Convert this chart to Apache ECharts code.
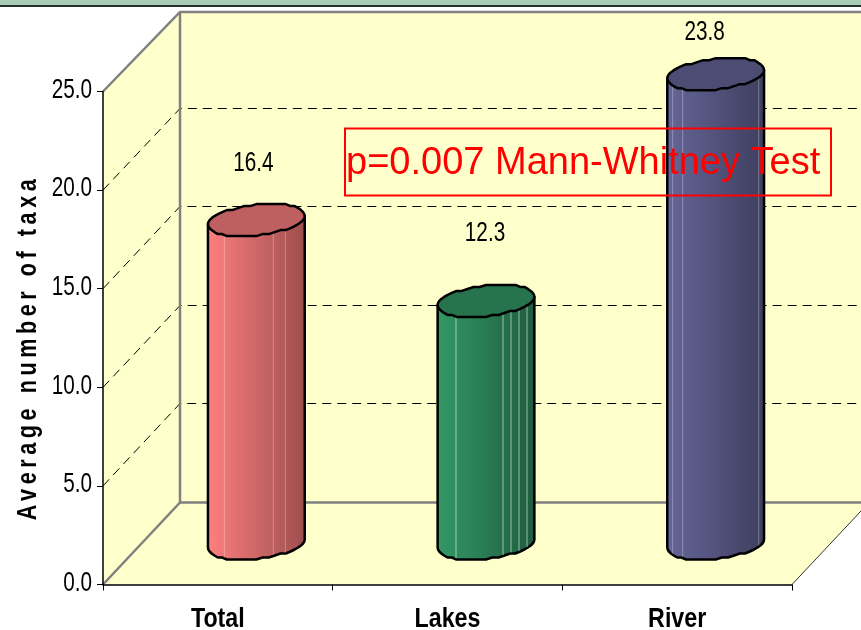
<!DOCTYPE html>
<html>
<head>
<meta charset="utf-8">
<style>html,body{margin:0;padding:0;background:#fff}#chart{width:861px;height:630px}</style>
<script src="https://cdn.jsdelivr.net/npm/echarts@6/dist/echarts.min.js"></script>
</head>
<body>
<div id="chart"></div>
<script>
// Average taxa per habitat group
const categories = ['Total', 'Lakes', 'River'];
const values = [16.4, 12.3, 23.8];
const valueLabels = ['16.4', '12.3', '23.8'];
const valueTicks = [0, 5, 10, 15, 20, 25];
const valueTickLabels = ['0.0', '5.0', '10.0', '15.0', '20.0', '25.0'];

// Shading per cylinder: lit side, shaded side, top cap
const litColors = ['#ff8080', '#339966', '#666699'];
const darkColors = ['#9c4e4e', '#1f5c3e', '#3e3e5e'];
const capColors = ['#bf6060', '#26734d', '#4d4d73'];

// Facet seams (x offset from the cylinder axis) and value label nudges
const seams = [[-32, 17, 29], [-30, 17, 25, 33, 41], [-43, -33, 43]];
const seamAlpha = [0.3, 0.55, 0.3];
const labelNudge = [[-3, -57], [-1, -68], [-11, -42]];

// Pseudo-3D box: full depth vector of the floor and the cylinder footprint
const DEPTH = [77, -82];
const RX = 46, SKEW_X = 15, SKEW_Y = 16, RING_POINTS = 48, STEP_Y = 2;
const LINE_GRAY = '#808080';
const FONT = '"Liberation Sans", Arial, sans-serif';
const NARROW = 0.74;

function wallItem(params, api) {
  const r = params.coordSys;
  const left = r.x, right = r.x + r.width, top = r.y, bottom = r.y + r.height;
  const dx = DEPTH[0], dy = DEPTH[1];
  const backTop = top - 79.5;
  const children = [];
  const fill = { fill: '#ffffcc', stroke: null };
  // back wall, side wall, floor
  children.push({ type: 'polygon', shape: { points: [[left + dx, backTop], [right + dx, backTop], [right + dx, bottom + dy], [left + dx, bottom + dy]] }, style: fill });
  children.push({ type: 'polygon', shape: { points: [[left, top], [left + dx, backTop], [left + dx, bottom + dy], [left, bottom]] }, style: fill });
  children.push({ type: 'polygon', shape: { points: [[left, bottom], [left + dx, bottom + dy], [right + dx, bottom + dy], [right, bottom]] }, style: fill });
  // dashed gridlines running along the side wall and the back wall
  valueTicks.slice(1, -1).forEach(function (v) {
    const y = api.coord([0, v])[1];
    const backY = Math.floor(y + dy) + 0.5;
    children.push({ type: 'polyline', shape: { points: [[left, y], [left + dx, backY], [right + dx, backY]] },
      style: { fill: null, stroke: '#000', lineWidth: 1, lineDash: [9, 6] } });
  });
  // wall edges
  const edge = { fill: null, stroke: LINE_GRAY, lineWidth: 2.5 };
  children.push({ type: 'polyline', shape: { points: [[left, top], [left + dx, backTop], [right + dx, backTop]] }, style: edge });
  children.push({ type: 'polyline', shape: { points: [[left + dx, backTop], [left + dx, bottom + dy], [right + dx, bottom + dy]] }, style: edge });
  children.push({ type: 'line', shape: { x1: left, y1: bottom, x2: left + dx, y2: bottom + dy }, style: edge });
  children.push({ type: 'line', shape: { x1: right, y1: bottom, x2: right + dx, y2: bottom + dy }, style: { stroke: '#333', lineWidth: 1 } });
  return { type: 'group', children: children };
}

// Condensed tick labels for both axes
function tickLabelItem(params, api) {
  const r = params.coordSys;
  const children = [];
  valueTicks.forEach(function (v, i) {
    children.push({ type: 'text', x: r.x - 11, y: api.coord([0, v])[1] - 1.5, scaleX: NARROW,
      style: { text: valueTickLabels[i], fill: '#000', font: '28px ' + FONT, align: 'right', verticalAlign: 'middle' } });
  });
  categories.forEach(function (c, i) {
    children.push({ type: 'text', x: api.coord([i, 0])[0], y: r.y + r.height + 34.5, scaleX: 0.83,
      style: { text: c, fill: '#000', font: 'bold 28px ' + FONT, align: 'center', verticalAlign: 'middle' } });
  });
  return { type: 'group', children: children };
}

// Stepped elliptical ring; index 0 is the right extreme, half way round the left one
function ring(cx, cy) {
  const pts = [];
  for (let k = 0; k < RING_POINTS; k++) {
    const t = (18 + k * 360 / RING_POINTS) * Math.PI / 180;
    const y = -SKEW_Y * Math.sin(t);
    pts.push([cx + RX * Math.cos(t) + SKEW_X * Math.sin(t), cy + Math.round(y / STEP_Y) * STEP_Y]);
  }
  return pts;
}

function cylinderItem(params, api) {
  const i = api.value(0);
  const base = api.coord([i, 0]);
  const head = api.coord([i, api.value(1)]);
  const cx = base[0] + DEPTH[0] / 2;
  const baseY = base[1] + DEPTH[1] / 2;
  const topY = head[1] + DEPTH[1] / 2;
  const lower = ring(cx, baseY);
  const upper = ring(cx, topY);
  const half = RING_POINTS / 2;
  // silhouette: front arc of the base (left to right), then back up along the top ring
  const arc = [];
  for (let k = half; k <= RING_POINTS; k++) arc.push(lower[k % RING_POINTS]);
  const body = arc.concat([upper[0], upper[half]]);
  const children = [{
    type: 'polygon', shape: { points: body },
    style: {
      fill: { type: 'linear', x: 0, y: 0, x2: 1, y2: 0, colorStops: [
        { offset: 0, color: litColors[i] }, { offset: 1, color: darkColors[i] }] },
      stroke: '#000', lineWidth: 2.5, lineJoin: 'round'
    }
  }];
  seams[i].forEach(function (off) {
    const x = cx + off;
    let y = baseY;
    for (let s = 0; s + 1 < arc.length; s++) {
      if (arc[s][0] <= x && x <= arc[s + 1][0]) {
        y = arc[s][1] + (arc[s + 1][1] - arc[s][1]) * (x - arc[s][0]) / (arc[s + 1][0] - arc[s][0]);
      }
    }
    children.push({ type: 'line', shape: { x1: x, y1: topY, x2: x, y2: y - 1 },
      style: { stroke: 'rgba(255,255,255,' + seamAlpha[i] + ')', lineWidth: 1 } });
  });
  children.push({ type: 'polygon', shape: { points: upper },
    style: { fill: capColors[i], stroke: '#000', lineWidth: 2.5, lineJoin: 'round' } });
  children.push({ type: 'text', x: cx + labelNudge[i][0], y: topY + labelNudge[i][1], scaleX: NARROW,
    style: { text: valueLabels[i], fill: '#000', font: '28px ' + FONT, align: 'center', verticalAlign: 'middle' } });
  return { type: 'group', children: children };
}

const chart = echarts.init(document.getElementById('chart'));

// The axis title sits on its own layer, tracked out through that layer's context
chart.getZr().painter.getLayer(5).ctx.letterSpacing = '5.7px';

chart.setOption({
  animation: false,
  backgroundColor: '#ffffff',
  grid: { left: 103, right: 69, top: 91.5, bottom: 45.5, containLabel: false, outerBoundsMode: 'none' },
  xAxis: {
    type: 'category', data: categories, z: 3,
    axisLine: { lineStyle: { color: '#000', width: 1.5 } },
    axisTick: { show: true, length: 6, alignWithLabel: false, lineStyle: { color: '#000', width: 1 } },
    axisLabel: { show: false },
    splitLine: { show: false }
  },
  yAxis: {
    type: 'value', min: 0, max: 25, interval: 5, z: 3,
    axisLine: { show: true, lineStyle: { color: '#000', width: 1.5 } },
    axisTick: { show: true, length: 6, lineStyle: { color: '#000', width: 1 } },
    axisLabel: { show: false },
    splitLine: { show: false }
  },
  series: [
    { type: 'custom', name: 'walls', z: 1, clip: false, silent: true, renderItem: wallItem, data: [[0, 0]] },
    { type: 'custom', name: 'tick labels', z: 1, clip: false, silent: true, renderItem: tickLabelItem, data: [[0, 0]] },
    { type: 'custom', name: 'Average number of taxa', z: 5, clip: false, renderItem: cylinderItem,
      encode: { x: 0, y: 1 }, data: values.map(function (v, i) { return [i, v]; }) }
  ],
  graphic: [
    // slide header strip
    { type: 'rect', z: 0, shape: { x: 0, y: 0, width: 861, height: 5 }, style: { fill: '#a8ccb4' } },
    { type: 'rect', z: 0, shape: { x: 0, y: 5, width: 861, height: 2 }, style: { fill: '#20302a' } },
    // test annotation
    { type: 'rect', z: 10, shape: { x: 345, y: 128.5, width: 486, height: 67 }, style: { fill: null, stroke: '#ff0000', lineWidth: 2 } },
    { type: 'text', z: 10, x: 346, y: 164, style: { text: 'p=0.007 Mann-Whitney Test', fill: '#ff0000', font: '38px ' + FONT, align: 'left', verticalAlign: 'middle' } },
    // value axis title
    { type: 'text', zlevel: 5, x: 29, y: 347.5, rotation: Math.PI / 2, scaleX: 0.8,
      style: { text: 'Average number of taxa', fill: '#000', font: 'bold 27px ' + FONT, align: 'center', verticalAlign: 'middle' } }
  ]
});
</script>
</body>
</html>
